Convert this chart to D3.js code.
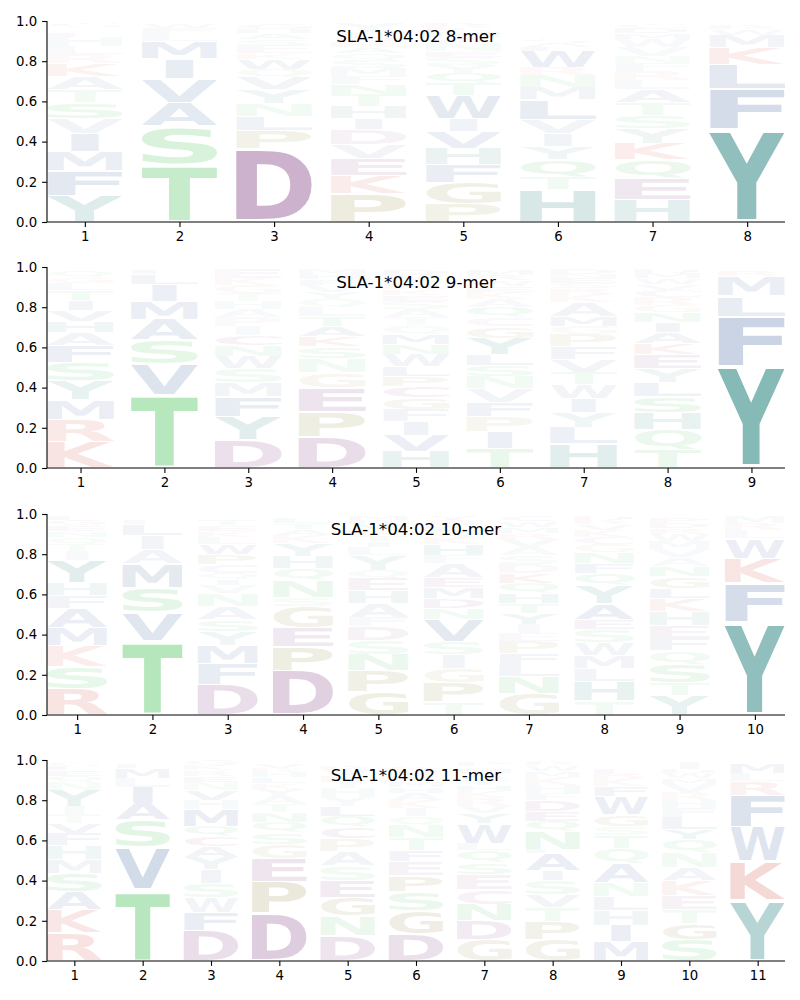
<!DOCTYPE html>
<html>
<head>
<meta charset="utf-8">
<script src="https://cdn.jsdelivr.net/npm/d3@7"></script>
<style>
body{margin:0;background:#fff}
svg{display:block}
text{font-family:'DejaVu Sans',sans-serif}
</style>
</head>
<body>
<script>
// panel titles
var titles = ["SLA-1*04:02 8-mer","SLA-1*04:02 9-mer","SLA-1*04:02 10-mer","SLA-1*04:02 11-mer"];
var yTicks = [0,0.2,0.4,0.6,0.8,1.0];

// each position: letters bottom -> top, with their probability
var logo8 = [
 [["Y",.13],["F",.125],["M",.095],["I",.09],["V",.075],["S",.08],["T",.065],["A",.065],["K",.065],["R",.045],["L",.04],["H",.045],["E",.02],["Q",.015],["N",.015],["G",.02]],
 [["T",.285],["S",.19],["A",.12],["V",.12],["I",.1],["M",.085],["L",.04],["F",.025],["W",.02]],
 [["D",.365],["P",.09],["L",.07],["N",.065],["Y",.07],["V",.06],["Q",.04],["W",.05],["K",.03],["E",.04],["S",.03],["A",.03],["H",.02],["G",.03]],
 [["P",.14],["K",.09],["E",.085],["V",.07],["D",.075],["I",.055],["H",.06],["T",.06],["N",.05],["F",.04],["M",.04],["S",.04],["Q",.035],["A",.03],["R",.03],["G",.03],["W",.02],["Y",.04]],
 [["P",.09],["G",.105],["F",.09],["H",.08],["V",.085],["I",.065],["W",.115],["T",.06],["Q",.05],["Y",.04],["S",.04],["E",.03],["N",.04],["A",.03],["M",.03],["K",.02],["R",.02]],
 [["H",.16],["T",.065],["Q",.085],["Y",.065],["I",.065],["V",.07],["L",.1],["M",.06],["N",.06],["R",.04],["W",.08],["E",.02],["A",.02],["S",.02]],
 [["H",.11],["E",.105],["Q",.095],["K",.08],["Y",.075],["S",.065],["T",.065],["A",.065],["L",.045],["R",.045],["F",.04],["N",.035],["V",.045],["W",.04],["M",.03],["D",.025],["G",.02]],
 [["Y",.46],["F",.2],["L",.125],["K",.085],["M",.06],["W",.03],["R",.02],["I",.01]]
];
var logo9 = [
 [["K",.13],["R",.11],["M",.1],["Y",.095],["S",.09],["F",.085],["A",.065],["H",.055],["V",.055],["I",.05],["T",.05],["L",.035],["G",.03],["Q",.03]],
 [["T",.365],["V",.15],["S",.12],["A",.105],["M",.09],["I",.085],["L",.05],["F",.02]],
 [["D",.14],["Y",.115],["F",.1],["M",.07],["S",.07],["W",.06],["N",.055],["C",.05],["I",.045],["P",.045],["A",.04],["H",.04],["T",.04],["G",.04],["K",.035],["E",.045]],
 [["D",.155],["P",.125],["E",.12],["G",.075],["N",.07],["S",.06],["K",.05],["A",.05],["T",.05],["L",.045],["Q",.04],["Y",.035],["V",.035],["F",.03],["H",.025],["M",.025]],
 [["H",.08],["V",.08],["I",.07],["F",.06],["G",.06],["C",.055],["P",.05],["L",.05],["W",.06],["N",.05],["M",.05],["Q",.045],["T",.04],["A",.04],["S",.04],["E",.03],["K",.03],["R",.03],["Y",.04],["D",.03]],
 [["T",.095],["I",.085],["P",.075],["F",.07],["V",.07],["N",.06],["S",.055],["L",.055],["Y",.08],["G",.06],["C",.045],["Q",.05],["A",.04],["K",.035],["E",.03],["W",.03],["R",.025],["M",.03]],
 [["H",.12],["L",.08],["Y",.075],["I",.07],["W",.07],["T",.06],["V",.065],["F",.065],["P",.06],["G",.04],["M",.05],["A",.07],["K",.04],["R",.03],["S",.025],["E",.025],["N",.02],["D",.025]],
 [["T",.09],["Q",.1],["H",.085],["S",.08],["L",.07],["Y",.07],["E",.07],["K",.055],["A",.055],["I",.05],["N",.05],["G",.035],["R",.04],["C",.035],["V",.03],["W",.03],["M",.025],["D",.02]],
 [["Y",.505],["F",.25],["L",.1],["M",.1],["R",.025],["W",.015]]
];
var logo10 = [
 [["R",.13],["S",.11],["K",.105],["M",.09],["A",.095],["F",.065],["H",.065],["Y",.11],["I",.045],["T",.035],["Q",.035],["N",.03],["E",.03],["G",.025],["L",.02]],
 [["T",.37],["V",.14],["S",.125],["M",.12],["A",.07],["I",.07],["L",.055],["F",.02],["W",.015]],
 [["D",.15],["F",.105],["M",.09],["Y",.07],["S",.06],["A",.065],["N",.065],["V",.04],["I",.03],["Q",.03],["C",.045],["P",.05],["W",.05],["L",.035],["K",.03],["E",.03],["T",.03],["G",.015]],
 [["D",.22],["P",.12],["E",.095],["G",.105],["S",.045],["N",.085],["Q",.06],["H",.06],["Y",.065],["K",.04],["A",.03],["T",.03],["L",.025],["M",.01]],
 [["G",.115],["P",.105],["N",.08],["S",.07],["D",.07],["F",.045],["A",.07],["H",.065],["E",.06],["Q",.04],["Y",.075],["L",.04],["I",.03],["T",.03],["K",.03],["V",.025],["R",.02],["M",.02]],
 [["T",.065],["P",.095],["G",.07],["I",.07],["S",.065],["V",.11],["N",.055],["D",.05],["M",.055],["E",.05],["A",.07],["F",.04],["H",.055],["K",.035],["Q",.03],["L",.03],["R",.025],["Y",.02]],
 [["G",.105],["N",.085],["L",.06],["F",.055],["P",.06],["E",.04],["I",.045],["Y",.055],["T",.05],["H",.05],["Q",.05],["K",.05],["D",.045],["S",.045],["A",.04],["V",.04],["R",.03],["M",.03],["W",.03],["C",.025]],
 [["T",.07],["H",.095],["L",.065],["M",.065],["W",.065],["S",.065],["E",.05],["A",.08],["Y",.09],["Q",.06],["F",.05],["N",.055],["G",.04],["C",.035],["K",.035],["V",.03],["R",.02],["D",.02]],
 [["Y",.095],["T",.065],["S",.09],["Q",.07],["F",.06],["E",.065],["H",.07],["K",.065],["L",.05],["G",.06],["N",.05],["A",.045],["V",.04],["M",.04],["W",.035],["R",.03],["D",.025],["P",.025],["C",.01]],
 [["Y",.46],["F",.195],["K",.125],["W",.1],["L",.04],["R",.035],["M",.035]]
];
var logo11 = [
 [["R",.14],["K",.115],["A",.09],["S",.09],["M",.07],["H",.07],["F",.06],["V",.05],["T",.045],["I",.04],["Y",.08],["N",.04],["Q",.03],["E",.03],["L",.02],["G",.02]],
 [["T",.355],["V",.21],["S",.135],["A",.085],["I",.08],["L",.045],["M",.05],["F",.02],["W",.01]],
 [["D",.15],["F",.09],["W",.075],["S",.07],["I",.07],["Y",.06],["A",.055],["C",.05],["Q",.05],["M",.085],["H",.045],["V",.05],["N",.04],["E",.03],["R",.03],["K",.025],["G",.025]],
 [["D",.235],["P",.16],["E",.115],["G",.07],["S",.06],["Q",.05],["N",.05],["T",.04],["A",.04],["Y",.035],["K",.03],["L",.03],["H",.025],["R",.02],["V",.02],["M",.01]],
 [["D",.125],["N",.1],["G",.09],["E",.085],["S",.075],["A",.07],["P",.065],["C",.055],["Q",.055],["L",.05],["Y",.045],["H",.045],["T",.035],["K",.03],["V",.025],["R",.02],["M",.015]],
 [["D",.135],["G",.115],["S",.095],["P",.08],["E",.07],["F",.055],["T",.065],["N",.06],["Q",.045],["I",.04],["K",.04],["A",.035],["H",.03],["M",.03],["Y",.025],["V",.025],["R",.02],["W",.015]],
 [["G",.105],["D",.095],["N",.08],["C",.075],["E",.075],["S",.06],["Q",.06],["L",.035],["W",.1],["Y",.05],["V",.035],["R",.04],["K",.035],["H",.03],["T",.03],["A",.03],["M",.02],["I",.015],["P",.02]],
 [["G",.105],["P",.09],["T",.07],["V",.065],["S",.07],["I",.05],["A",.085],["L",.02],["N",.09],["Q",.05],["E",.05],["D",.055],["F",.035],["H",.04],["K",.04],["M",.03],["W",.03],["R",.02]],
 [["M",.095],["I",.08],["H",.075],["L",.07],["N",.07],["A",.095],["Q",.075],["T",.065],["S",.045],["G",.06],["W",.09],["F",.05],["K",.04],["R",.025],["E",.02],["D",.015],["V",.015]],
 [["S",.105],["G",.08],["T",.07],["E",.07],["K",.075],["A",.065],["N",.075],["Q",.065],["Y",.05],["L",.06],["F",.045],["H",.04],["R",.04],["V",.04],["M",.03],["W",.025],["D",.02],["I",.035]],
 [["Y",.3],["K",.195],["W",.17],["F",.16],["R",.07],["L",.04],["M",.05]]
];
var logos = [logo8, logo9, logo10, logo11];

// colour groups
var blue = "rgb(50,90,150)", teal = "rgb(20,120,115)", green = "rgb(60,190,80)",
    purple = "rgb(120,50,120)", red = "rgb(205,70,60)", olive = "rgb(135,125,40)", pink = "rgb(150,60,130)";
var aaColor = {A:blue,V:blue,L:blue,I:blue,M:blue,F:blue,W:blue,
  Y:teal,H:teal, S:green,T:green,N:green,Q:green, D:purple,E:purple, K:red,R:red, P:olive,G:olive, C:pink};

var W = 800, H = 1000;
var left = 47, right = 785, top0 = [21,267,514,760], ph = 201;
var letterWidth = 0.8, vpad = 0.07;

var svg = d3.select("body").append("svg").attr("width", W).attr("height", H);

// glyph ink bounds from canvas
var ctx = document.createElement("canvas").getContext("2d");
ctx.font = "bold 100px 'DejaVu Sans'";
var boxCache = {};
function glyphBox(ch){
	if(!boxCache[ch]){
		var m = ctx.measureText(ch);
		boxCache[ch] = {l:m.actualBoundingBoxLeft, r:m.actualBoundingBoxRight, a:m.actualBoundingBoxAscent, d:m.actualBoundingBoxDescent};
	}
	return boxCache[ch];
}
var eBox = glyphBox("E");
var eWidth = eBox.l + eBox.r;

logos.forEach(function(logo, pi){
	var n = logo.length;
	var x = d3.scaleLinear().domain([0.6, n + 0.4]).range([left, right]);
	var y = d3.scaleLinear().domain([0, 1]).range([top0[pi] + ph, top0[pi]]);

	var g = svg.append("g");

	// stack letters
	var glyphs = [];
	logo.forEach(function(col, i){
		var floor = 0;
		col.forEach(function(d){
			glyphs.push({ch:d[0], p:d[1], pos:i + 1, floor:floor, ceil:floor + d[1]});
			floor += d[1];
		});
	});

	g.selectAll("text.glyph").data(glyphs).enter().append("text")
		.attr("class","glyph")
		.text(function(d){ return d.ch; })
		.style("font-size","100px").style("font-weight","bold")
		.attr("fill", function(d){ return aaColor[d.ch]; })
		.attr("fill-opacity", function(d){ return Math.min(1, d.p * 1.0 + 0.01); })
		.attr("transform", function(d){
			var b = glyphBox(d.ch);
			var gw = b.l + b.r, gh = b.a + b.d;
			var bw = x(d.pos + letterWidth/2) - x(d.pos - letterWidth/2);
			var pad = (d.ceil - d.floor) * vpad / 2;
			var yTop = y(d.ceil - pad), bh = y(d.floor + pad) - yTop;
			var sx = Math.min(bw / gw, bw / eWidth), sy = bh / gh;
			var x0 = x(d.pos) - gw * sx / 2;
			return "translate(" + x0 + "," + yTop + ") scale(" + sx + "," + sy + ") translate(" + b.l + "," + b.a + ")";
		});

	// axes
	var xAxis = d3.axisBottom(x).tickValues(d3.range(1, n + 1)).tickFormat(d3.format("d")).tickSize(4.9).tickPadding(4.9);
	var yAxis = d3.axisLeft(y).tickValues(yTicks).tickFormat(d3.format(".1f")).tickSize(4.9).tickPadding(4.9);

	var gx = svg.append("g").attr("transform","translate(0," + (top0[pi] + ph) + ")").call(xAxis);
	var gy = svg.append("g").attr("transform","translate(" + left + ",0)").call(yAxis);
	gx.select(".domain").attr("d", "M" + left + ",0H" + right);
	gy.select(".domain").attr("d", "M0," + (top0[pi] + ph) + "V" + top0[pi]);
	[gx, gy].forEach(function(a){
		a.selectAll("text").style("font-family","'DejaVu Sans',sans-serif").style("font-size","13.3px").attr("fill","#000");
		a.selectAll("line").attr("stroke","#000").attr("stroke-width",1.1);
		a.select(".domain").attr("stroke","#000").attr("stroke-width",1.1);
	});

	svg.append("text")
		.attr("x", (left + right) / 2)
		.attr("y", top0[pi] + 21)
		.attr("text-anchor","middle")
		.style("font-size","16.7px")
		.attr("fill","#000")
		.text(titles[pi]);
});
</script>
</body>
</html>
